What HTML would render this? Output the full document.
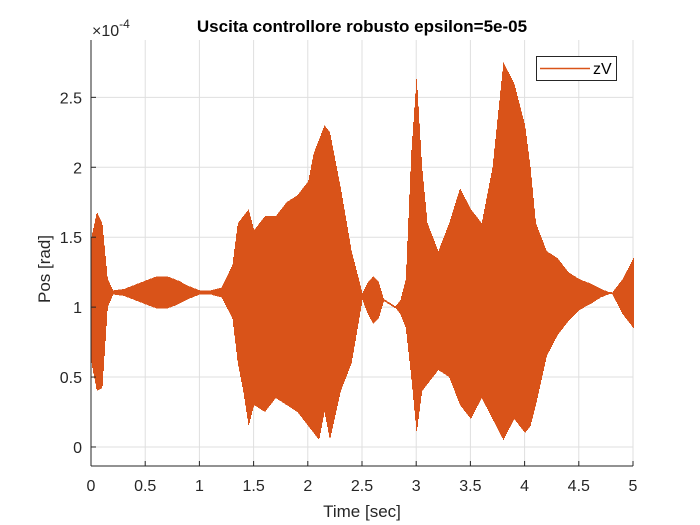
<!DOCTYPE html>
<html><head><meta charset="utf-8"><style>
body{margin:0;background:#fff;}
svg{display:block;font-family:"Liberation Sans",Arial,sans-serif;}
</style></head><body>
<svg id="chart" width="700" height="525">
<rect width="700" height="525" fill="#fff"/>
<g id="grid"></g>
<g id="series"></g>
<g id="axes"></g>
<text x="362" y="32" text-anchor="middle" font-size="17" font-weight="bold" fill="#000">Uscita controllore robusto epsilon=5e-05</text>
<text x="362" y="517" text-anchor="middle" font-size="17" fill="#262626">Time [sec]</text>
<text transform="translate(50,269) rotate(-90)" text-anchor="middle" font-size="17" fill="#262626">Pos [rad]</text>
<text x="92" y="36" font-size="16" fill="#262626">×10<tspan dy="-8" font-size="12">-4</tspan></text>
<g>
<rect x="536.5" y="56.5" width="80" height="24" fill="#fff" stroke="#262626" stroke-width="1"/>
<line x1="540" y1="68.5" x2="590" y2="68.5" stroke="#D95319" stroke-width="1.5"/>
<text x="593" y="74" font-size="16" fill="#000">zV</text>
</g>
</svg>
<script>
const times=[0,0.05,0.1,0.15,0.2,0.3,0.4,0.5,0.6,0.7,0.8,0.9,1.0,1.1,1.2,1.3,1.35,1.4,1.45,1.5,1.6,1.7,1.8,1.9,2.0,2.05,2.1,2.15,2.2,2.3,2.4,2.5,2.55,2.6,2.65,2.7,2.8,2.85,2.9,2.95,3.0,3.05,3.1,3.2,3.3,3.4,3.5,3.6,3.7,3.8,3.9,4.0,4.05,4.1,4.2,4.3,4.4,4.5,4.6,4.7,4.8,4.9,5.0];
const upper=[1.5,1.68,1.6,1.2,1.12,1.13,1.16,1.19,1.22,1.22,1.19,1.15,1.12,1.12,1.14,1.3,1.6,1.65,1.7,1.55,1.65,1.65,1.75,1.8,1.9,2.1,2.2,2.3,2.25,1.85,1.4,1.1,1.18,1.22,1.18,1.05,1.0,1.05,1.2,2.1,2.65,2.0,1.6,1.4,1.6,1.85,1.7,1.6,2.0,2.75,2.6,2.3,2.0,1.6,1.4,1.35,1.25,1.2,1.17,1.13,1.1,1.2,1.35];
const lower=[0.6,0.4,0.42,1.0,1.09,1.08,1.05,1.02,0.99,0.99,1.02,1.06,1.09,1.09,1.07,0.92,0.6,0.4,0.15,0.3,0.25,0.35,0.3,0.25,0.15,0.1,0.05,0.25,0.05,0.4,0.6,1.05,0.95,0.88,0.92,1.05,1.0,0.95,0.85,0.5,0.1,0.4,0.45,0.55,0.5,0.3,0.2,0.35,0.2,0.05,0.2,0.1,0.15,0.3,0.65,0.8,0.9,0.98,1.02,1.07,1.1,0.95,0.85];
const xTicks=[0,0.5,1,1.5,2,2.5,3,3.5,4,4.5,5];
const xTickLabels=["0","0.5","1","1.5","2","2.5","3","3.5","4","4.5","5"];
const yTicks=[0,0.5,1,1.5,2,2.5];
const yTickLabels=["0","0.5","1","1.5","2","2.5"];

const NS="http://www.w3.org/2000/svg";
const X0=91,X1=633,YT=40,YB=466;
const xMin=0,xMax=5,yMin=-0.136,yMax=2.91;
function xs(v){return X0+(v-xMin)/(xMax-xMin)*(X1-X0);}
function ys(v){return YB-(v-yMin)/(yMax-yMin)*(YB-YT);}
function mk(tag,attrs,parent){const e=document.createElementNS(NS,tag);for(const k in attrs)e.setAttribute(k,attrs[k]);parent.appendChild(e);return e;}
const grid=document.getElementById('grid'),axes=document.getElementById('axes'),series=document.getElementById('series');
xTicks.forEach((t,i)=>{
  const gl=mk('line',{x1:xs(t),x2:xs(t),y1:YT,y2:YB,stroke:'#dfdfdf','stroke-width':1},grid);
  
  
  const tk=mk('line',{x1:xs(t),x2:xs(t),y1:YB,y2:YB-5,stroke:'#262626','stroke-width':1},axes);
  
  
  const lb=mk('text',{x:xs(t),y:YB+25,'text-anchor':'middle','font-size':16,fill:'#262626'},axes);
  lb.textContent=xTickLabels[i];
  
  
});
yTicks.forEach((t,i)=>{
  const gl=mk('line',{x1:X0,x2:X1,y1:ys(t),y2:ys(t),stroke:'#dfdfdf','stroke-width':1},grid);
  
  
  const tk=mk('line',{x1:X0,x2:X0+5,y1:ys(t),y2:ys(t),stroke:'#262626','stroke-width':1},axes);
  
  
  const lb=mk('text',{x:X0-9,y:ys(t)+6,'text-anchor':'end','font-size':16,fill:'#262626'},axes);
  lb.textContent=yTickLabels[i];
  
  
});
const ax=mk('line',{x1:X0,x2:X0,y1:YT,y2:YB,stroke:'#262626','stroke-width':1},axes);


const bx=mk('line',{x1:X0,x2:X1,y1:YB,y2:YB,stroke:'#262626','stroke-width':1},axes);


function interp(arr,t){
  for(let i=0;i<times.length-1;i++){if(t<=times[i+1]){const f=(t-times[i])/(times[i+1]-times[i]);return arr[i]+(arr[i+1]-arr[i])*f;}}
  return arr[arr.length-1];
}
let d='';
const px0=Math.round(xs(times[0])),px1=Math.round(xs(times[times.length-1]));
for(let px=px0;px<=px1;px++){
  const t=xMin+(px-X0)/(X1-X0)*(xMax-xMin);
  let a=ys(interp(upper,t)),b=ys(interp(lower,t));
  if(b-a<2){const m=(a+b)/2;a=m-1;b=m+1;}
  d+='M'+(px+0.5)+' '+a.toFixed(2)+'L'+(px+0.5)+' '+b.toFixed(2);
}
const p=mk('path',{d:d,fill:'none',stroke:'#D95319','stroke-width':1.05,'shape-rendering':'crispEdges'},series);


</script>
</body></html>
